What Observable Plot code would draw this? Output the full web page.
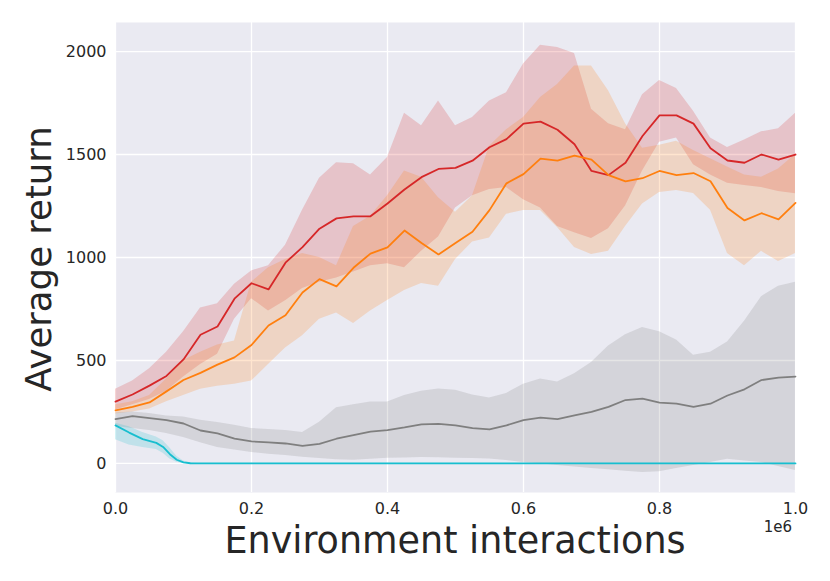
<!DOCTYPE html>
<html>
<head>
<meta charset="utf-8">
<script src="https://cdn.jsdelivr.net/npm/d3@7"></script>
<script src="https://cdn.jsdelivr.net/npm/@observablehq/plot@0.6"></script>
<style>
  body { margin: 0; background: white; }
  #chart svg { display: block; }
</style>
</head>
<body>
<div id="chart"></div>
<script>
// Environment steps (shared grid for red, orange, gray)
const steps = [0, 25000, 50000, 75000, 100000, 125000, 150000, 175000, 200000, 225000,
  250000, 275000, 300000, 325000, 350000, 375000, 400000, 425000, 450000, 475000,
  500000, 525000, 550000, 575000, 600000, 625000, 650000, 675000, 700000, 725000,
  750000, 775000, 800000, 825000, 850000, 875000, 900000, 925000, 950000, 975000, 1000000];

const redMean = [300, 335, 378, 425, 505, 625, 665, 800, 875, 845,
  975, 1050, 1140, 1190, 1200, 1200, 1262, 1330, 1390, 1430,
  1435, 1470, 1535, 1575, 1650, 1660, 1620, 1550, 1420, 1400,
  1460, 1590, 1690, 1690, 1650, 1530, 1471, 1460, 1500, 1475, 1500];
const redHi = [360, 400, 460, 540, 640, 755, 775, 870, 935, 960,
  1060, 1230, 1385, 1460, 1455, 1400, 1485, 1700, 1640, 1760,
  1640, 1680, 1760, 1800, 1940, 2030, 2020, 1990, 1720, 1650,
  1620, 1790, 1860, 1820, 1710, 1580, 1534, 1570, 1610, 1625, 1700];
const redLo = [260, 285, 310, 350, 420, 480, 530, 700, 800, 740,
  790, 850, 880, 900, 930, 960, 970, 950, 1030, 1100,
  1240, 1300, 1330, 1340, 1280, 1240, 1150, 1120, 1092, 1140,
  1250, 1420, 1560, 1580, 1450, 1400, 1360, 1350, 1340, 1320, 1310];

const orangeMean = [258, 275, 296, 350, 405, 440, 480, 515, 575, 670,
  720, 830, 895, 860, 950, 1019, 1049, 1131, 1070, 1015,
  1070, 1125, 1230, 1360, 1405, 1480, 1470, 1495, 1475, 1400,
  1370, 1385, 1420, 1400, 1410, 1370, 1240, 1180, 1215, 1185, 1265];
const orangeHi = [285, 300, 330, 410, 500, 540, 575, 595, 880, 950,
  990, 1020, 1000, 960, 1150, 1200, 1300, 1420, 1390, 1290,
  1220, 1300, 1540, 1620, 1680, 1777, 1840, 1930, 1930, 1810,
  1650, 1530, 1545, 1565, 1520, 1480, 1440, 1400, 1390, 1430, 1500];
const orangeLo = [240, 250, 265, 300, 330, 360, 375, 385, 400, 480,
  560, 620, 700, 730, 680, 740, 791, 840, 874, 860,
  990, 1075, 1095, 1210, 1228, 1228, 1146, 1049, 1015, 1030,
  1150, 1260, 1315, 1325, 1311, 1230, 1019, 960, 1030, 980, 1019];

const grayMean = [215, 230, 220, 210, 194, 160, 146, 121, 107, 102,
  97, 85, 95, 120, 138, 155, 162, 175, 190, 192,
  185, 172, 165, 185, 210, 223, 215, 233, 250, 275,
  308, 315, 295, 291, 275, 290, 330, 360, 405, 417, 422];
const grayHi = [245, 250, 243, 230, 225, 210, 199, 185, 170, 165,
  160, 150, 200, 270, 285, 298, 298, 330, 350, 362,
  355, 332, 318, 340, 385, 410, 395, 435, 490, 570,
  625, 660, 640, 600, 525, 540, 590, 690, 810, 860, 880];
const grayLo = [180, 170, 160, 145, 126, 100, 78, 65, 53, 45,
  39, 30, 24, 18, 15, 20, 25, 27, 29, 28,
  25, 24, 22, 14, 5, -2, -10, -17, -24, -31,
  -38, -44, -40, -25, -10, 5, 20, 12, 5, -15, -34];

// Cyan series (own grid: fast early drop)
const cyanSteps = [0, 20000, 40000, 60000, 70000, 80000, 90000, 100000, 110000, 120000,
  200000, 400000, 600000, 800000, 1000000];
const cyanMean = [185, 150, 118, 100, 80, 45, 18, 5, 1, 0, 0, 0, 0, 0, 0];
const cyanHi = [195, 178, 150, 128, 110, 75, 35, 12, 3, 1, 1, 1, 1, 1, 1];
const cyanLo = [115, 90, 78, 68, 50, 22, 6, 0, 0, 0, 0, 0, 0, 0, 0];

const xTicks = [0, 200000, 400000, 600000, 800000, 1000000];
const yTicks = [0, 500, 1000, 1500, 2000];

const colors = {red: "#d62728", orange: "#ff7f0e", gray: "#7f7f7f", cyan: "#17becf"};

function rows(xs, m, lo, hi) {
  return xs.map((x, i) => ({x, mean: m[i], lo: lo[i], hi: hi[i]}));
}
const series = [
  {name: "red", data: rows(steps, redMean, redLo, redHi)},
  {name: "orange", data: rows(steps, orangeMean, orangeLo, orangeHi)},
  {name: "gray", data: rows(steps, grayMean, grayLo, grayHi)},
  {name: "cyan", data: rows(cyanSteps, cyanMean, cyanLo, cyanHi)}
];

const font = "DejaVu Sans, sans-serif";

const chart = Plot.plot({
  width: 830,
  height: 581,
  marginLeft: 115,
  marginRight: 35,
  marginTop: 22,
  marginBottom: 89,
  style: {background: "white", fontFamily: font, color: "#262626"},
  x: {domain: [0, 1000000], label: null},
  y: {domain: [-141, 2141], label: null},
  marks: [
    Plot.frame({fill: "#eaeaf2", stroke: null}),
    Plot.gridX(xTicks, {stroke: "white", strokeOpacity: 1, strokeWidth: 1.3}),
    Plot.gridY(yTicks, {stroke: "white", strokeOpacity: 1, strokeWidth: 1.3}),
    ...series.map(s => Plot.areaY(s.data, {x: "x", y1: "lo", y2: "hi", fill: colors[s.name], fillOpacity: 0.2})),
    ...series.map(s => Plot.lineY(s.data, {x: "x", y: "mean", stroke: colors[s.name], strokeWidth: 1.8})),
    Plot.axisX(xTicks, {tickSize: 0, tickPadding: 10, fontSize: 16, tickFormat: d => (d / 1e6).toFixed(1), label: null}),
    Plot.axisY(yTicks, {tickSize: 0, tickPadding: 9, fontSize: 16, tickFormat: d => String(d), label: null})
  ]
});

const svg = d3.select(chart);
svg.append("text")
  .attr("x", 455).attr("y", 553)
  .attr("text-anchor", "middle")
  .attr("font-family", font).attr("font-size", 36.5).attr("fill", "#262626")
  .text("Environment interactions");
svg.append("text")
  .attr("transform", "translate(51,259) rotate(-90)")
  .attr("text-anchor", "middle")
  .attr("font-family", font).attr("font-size", 35.5).attr("fill", "#262626")
  .text("Average return");
svg.append("text")
  .attr("x", 792).attr("y", 532)
  .attr("text-anchor", "end")
  .attr("font-family", font).attr("font-size", 15).attr("fill", "#262626")
  .text("1e6");

document.getElementById("chart").appendChild(chart);
</script>
</body>
</html>
